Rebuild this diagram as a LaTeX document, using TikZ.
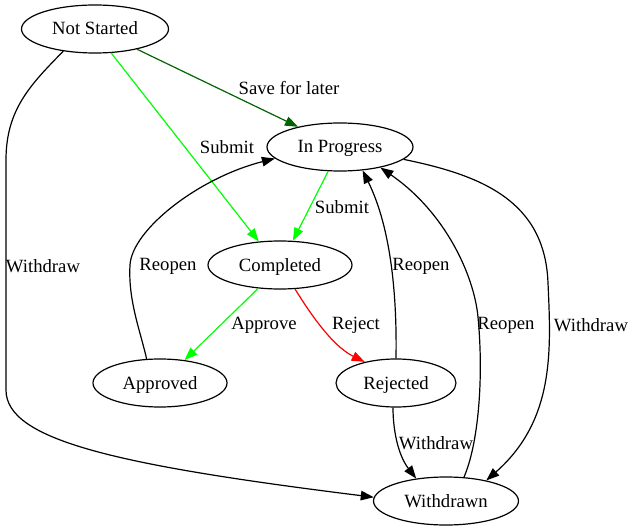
\documentclass[tikz,border=0pt]{standalone}
\usepackage{fontspec}
\setmainfont{Liberation Serif}
\usetikzlibrary{shapes.geometric,arrows.meta}
\definecolor{dkgreen}{RGB}{0,100,0}
\definecolor{brgreen}{RGB}{0,255,0}
\definecolor{brred}{RGB}{255,0,0}
\begin{document}
\begin{tikzpicture}[x=1pt,y=-1pt,
  state/.style={draw, ellipse, line width=1.2pt, minimum height=48pt, inner sep=0pt, text height=14pt, text depth=2pt, font=\fontsize{18.7}{22}\selectfont},
  edge/.style={line width=1.2pt, -{Triangle[length=13pt,width=9.5pt]}},
  lbl/.style={font=\fontsize{18.7}{22}\selectfont, inner sep=0pt}]
\useasboundingbox (0,0) rectangle (635,532);

\node[state, minimum width=147pt] (ns) at (95,29) {Not Started};
\node[state, minimum width=146pt] (ip) at (340,147) {In Progress};
\node[state, minimum width=144pt] (cp) at (280,265) {Completed};
\node[state, minimum width=134pt] (ap) at (160,383) {Approved};
\node[state, minimum width=120pt] (rj) at (396,383) {Rejected};
\node[state, minimum width=145pt] (wd) at (446,501) {Withdrawn};

\draw[edge, dkgreen] (ns) -- (ip);
\draw[edge, brgreen] (ns.-56.3) -- (cp.132.3);
\draw[edge, brgreen] (ip.-116.6) -- (cp.62.4);
\draw[edge] (ns.-145.5) .. controls (30,85) and (6,110) .. (6,160) -- (6,390) .. controls (6,440) and (115,465) .. (wd.177.6);
\draw[edge] (ip.-11.3) .. controls (480,175) and (545,200) .. (548,283) .. controls (551,350) and (555,420) .. (wd.27.2);
\draw[edge, brgreen] (cp.-133.8) -- (ap.43.7);
\draw[edge, brred] (cp.-58) .. controls (305,305) and (330,345) .. (rj.146.3);
\draw[edge] (ap.119.5) .. controls (140,330) and (128,300) .. (130,265) .. controls (132,230) and (198,178) .. (ip.-170);
\draw[edge] (rj.90) .. controls (397,300) and (392,230) .. (ip.-46.3);
\draw[edge] (wd.53.5) .. controls (478,445) and (484,380) .. (478,317) .. controls (474,275) and (445,212) .. (ip.-27.7);
\draw[edge] (rj.-97) .. controls (393,430) and (398,455) .. (wd.143);

\node[lbl] (l1) at (289,88) {Save for later};
\node[lbl] (l2) at (227,147) {Submit};
\node[lbl] (l3) at (342,207) {Submit};
\node[lbl] (l4) at (43,266) {Withdraw};
\node[lbl] (l5) at (591,325) {Withdraw};
\node[lbl] (l6) at (264,325) {Approve};
\node[lbl] (l7) at (356,325) {Reject};
\node[lbl] (l8) at (168,266) {Reopen};
\node[lbl] (l9) at (421,266) {Reopen};
\node[lbl] (l10) at (506,325) {Reopen};
\node[lbl] (l11) at (436,443) {Withdraw};
\end{tikzpicture}
\end{document}
